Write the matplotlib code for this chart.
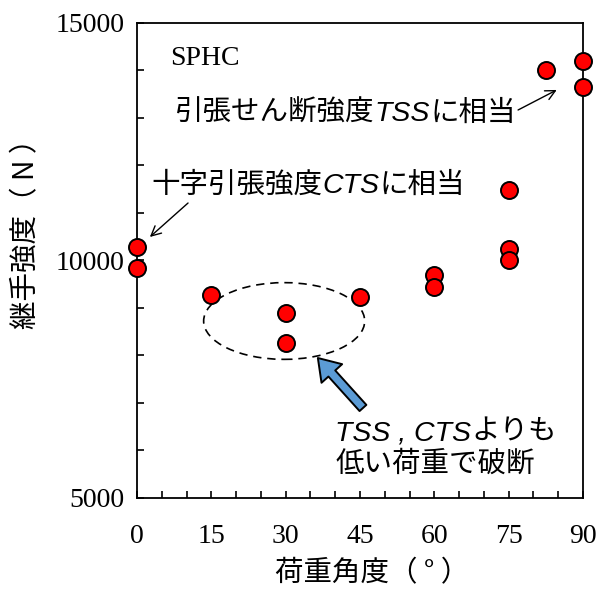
import matplotlib
matplotlib.use("Agg")
import matplotlib.pyplot as plt
from matplotlib.patches import Ellipse
from matplotlib.transforms import offset_copy
from matplotlib.ticker import MultipleLocator

# load angle (deg) vs joint strength (N), SPHC
angle = [0, 0, 15, 30, 30, 45, 60, 60, 75, 75, 75, 82.5, 90, 90]
strength = [10290, 9840, 9270, 8890, 8260, 9240, 9690, 9450,
            11480, 10250, 10010, 14000, 14190, 13650]

x_ticks = [0, 15, 30, 45, 60, 75, 90]
y_ticks = [5000, 10000, 15000]

JP = "Noto Sans CJK JP"
LAT = "Liberation Sans"
SERIF = "Liberation Serif"
FS = 20.5

fig = plt.figure(figsize=(6.03, 5.89), dpi=100)
ax = fig.add_axes([0.2272, 0.1545, 0.7396, 0.8065])

ax.scatter(angle, strength, s=150, c="#FF0000", edgecolors="black",
           linewidths=1.4, zorder=5, clip_on=False)

ax.set_xlim(0, 90)
ax.set_ylim(5000, 15000)
ax.set_xticks(x_ticks)
ax.set_yticks(y_ticks)
ax.xaxis.set_minor_locator(MultipleLocator(5))
ax.yaxis.set_minor_locator(MultipleLocator(1000))
ax.tick_params(which="both", direction="in", length=5, width=1.2,
               top=False, right=False, labelsize=20, labelfontfamily=SERIF)
ax.tick_params(axis="x", pad=19)
ax.tick_params(axis="y", pad=9)
for sp in ax.spines.values():
    sp.set_linewidth(1.3)

ax.set_xlabel("荷重角度（ ° ）", fontfamily=JP, fontsize=FS)
ax.xaxis.set_label_coords(0.527, -0.127)
ax.set_ylabel("継手強度（ N ）", fontfamily=JP, fontsize=FS)
ax.yaxis.set_label_coords(-0.215, 0.57)

renderer = fig.canvas.get_renderer()


def rich_text(x, y, parts):
    # draw text pieces one after another on a shared baseline
    dx = 0
    for s, italic in parts:
        tr = offset_copy(ax.transData, fig=fig, x=dx, y=0, units="dots")
        t = ax.text(x, y, s, transform=tr, va="baseline", ha="left",
                    fontsize=FS, fontfamily=LAT if italic else JP,
                    fontstyle="italic" if italic else "normal")
        dx += t.get_window_extent(renderer).width


ax.text(6.7, 14116, "SPHC", fontfamily=SERIF, fontsize=20, va="baseline")

rich_text(7.7, 12940, [("引張せん断強度", False), ("TSS", True), ("に相当", False)])
rich_text(3.0, 11420, [("十字引張強度", False), ("CTS", True), ("に相当", False)])
rich_text(40.0, 6220, [("TSS , CTS", True), ("よりも", False)])
rich_text(40.0, 5550, [("低い荷重で破断", False)])

thin = dict(arrowstyle="->,head_length=0.7,head_width=0.35", color="black",
            lw=1.0, shrinkA=0, shrinkB=0)
ax.annotate("", xy=(2.6, 10495), xytext=(10.3, 11210), arrowprops=thin)
ax.annotate("", xy=(84.7, 13590), xytext=(76.9, 13168), arrowprops=thin)

ax.add_patch(Ellipse((29.7, 8726), 32.5, 1615, fill=False, ec="black",
                     lw=1.2, ls=(0, (5, 3.5)), zorder=3))

ax.annotate("", xy=(36.5, 7947), xytext=(45.6, 6895),
            arrowprops=dict(arrowstyle="simple,head_length=0.75,head_width=1.0,tail_width=0.33",
                            fc="#5B9BD5", ec="black", lw=1.4,
                            shrinkA=0, shrinkB=0, mutation_scale=20))

fig.savefig("out.png", dpi=100)
